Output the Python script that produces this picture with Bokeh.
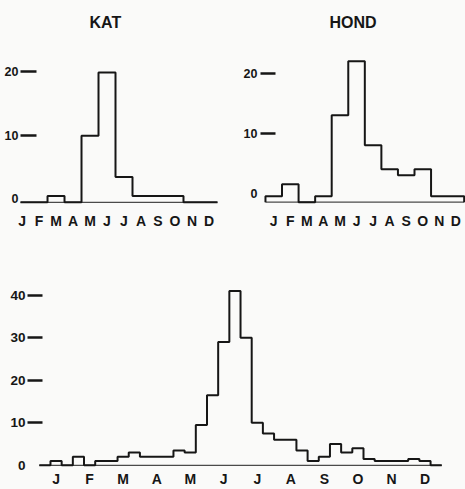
import numpy as np
from bokeh.plotting import figure
from bokeh.models import Range1d, LinearAxis, FixedTicker, Label
from bokeh.layouts import column, row
from bokeh.embed import file_html
from bokeh.resources import INLINE

# ---- data ----
months = ["J", "F", "M", "A", "M", "J", "J", "A", "S", "O", "N", "D"]
kat_counts = [0, 0, 1, 0, 10.5, 20.5, 4, 1, 1, 1, 0, 0]          # per month
hond_counts = [1, 3, 0, 1, 14.5, 23.5, 9.5, 5.5, 4.5, 5.5, 1, 1]  # per month
all_counts = [0, 1, 0, 2, 0, 1, 1, 2, 3, 2, 2, 2,                 # per 10-day period
              3.5, 3, 9.5, 16.5, 29, 41, 30, 10, 7.5, 6, 6, 3.5,
              1, 2, 5, 3, 4, 1.5, 1, 1, 1, 1.5, 1, 0]
small_ticks = [0, 10, 20]
big_ticks = [0, 10, 20, 30, 40]
titles = ["KAT", "HOND"]

FONT = "Liberation Sans"
PAPER = "#fafaf9"
INK = "#161616"


def outline(values, per_month):
    w = 1.0 / per_month
    edges = np.arange(len(values) + 1) * w
    xs = np.repeat(edges, 2)
    ys = np.concatenate([[0.0], np.repeat(np.asarray(values, float), 2), [0.0]])
    return edges, xs, ys


def panel(values, per_month, width, height, xr, yr, tick_offset, ticks,
          borders, standoff, tick_in, num_size, title=None, title_pos=(0, 0),
          month_standoff=7):
    left, right, top, bottom = borders
    p = figure(width=width, height=height, x_range=Range1d(*xr), y_range=Range1d(*yr),
               output_backend="svg", toolbar_location=None,
               x_axis_location=None, y_axis_location=None,
               min_border_left=left, min_border_right=right,
               min_border_top=top, min_border_bottom=bottom,
               background_fill_color=PAPER, border_fill_color=PAPER,
               outline_line_color=None, frame_align=False)
    p.grid.visible = False
    if title:
        p.add_layout(Label(x=title_pos[0], y=title_pos[1], text=title,
                           text_align="left", text_baseline="middle",
                           text_font=FONT, text_font_style="bold",
                           text_font_size="16px", text_color=INK))

    # y axis on a range shifted to where the printed ticks sit
    p.extra_y_ranges = {"ticks": Range1d(yr[0] - tick_offset, yr[1] - tick_offset)}
    yax = LinearAxis(y_range_name="ticks",
                     ticker=FixedTicker(ticks=ticks, minor_ticks=[t for t in ticks if t > 0]))
    yax.axis_line_color = None
    yax.major_tick_in = 0
    yax.major_tick_out = 0
    yax.minor_tick_out = 0
    yax.minor_tick_in = tick_in
    yax.minor_tick_line_width = 2.5
    yax.minor_tick_line_color = INK
    yax.major_label_standoff = standoff
    yax.major_label_text_font = FONT
    yax.major_label_text_font_style = "bold"
    yax.major_label_text_font_size = num_size
    yax.major_label_text_color = INK
    p.add_layout(yax, "left")

    xax = LinearAxis(ticker=FixedTicker(ticks=[i + 0.5 for i in range(12)]),
                     major_label_overrides={i + 0.5: m for i, m in enumerate(months)})
    xax.axis_line_color = None
    xax.major_tick_in = 0
    xax.major_tick_out = 0
    xax.major_label_standoff = month_standoff
    xax.major_label_text_font = FONT
    xax.major_label_text_font_style = "bold"
    xax.major_label_text_font_size = "14px"
    xax.major_label_text_color = INK
    p.add_layout(xax, "below")

    edges, xs, ys = outline(values, per_month)
    p.line([edges[0], edges[-1]], [0, 0], line_color="#4a4a4a", line_width=1.2)
    p.line(xs, ys, line_color=INK, line_width=2)
    return p


p1 = panel(kat_counts, 1, 240, 240, (0.41, 12.06), (-0.5, 31.88), 0.6, small_ticks,
           (20, 22, 0, 35), 2, 16, "12.5px", title=titles[0], title_pos=(4.47, 28.36))
p2 = panel(hond_counts, 1, 225, 240, (-0.30, 12.08), (-0.55, 33.62), 1.5, small_ticks,
           (17, 0, 0, 35), 3, 15, "12.5px", title=titles[1], title_pos=(3.87, 29.87))
p3 = panel(all_counts, 3, 465, 249, (-0.352, 12.41), (-0.5, 42.5), 0.0, big_ticks,
           (27, 10, 44, 20), 2, 15, "13.5px", month_standoff=3)

layout = column(row(p1, p2, styles={"background-color": PAPER}), p3,
                styles={"background-color": PAPER})
open("out.html", "w").write(file_html(layout, INLINE))
